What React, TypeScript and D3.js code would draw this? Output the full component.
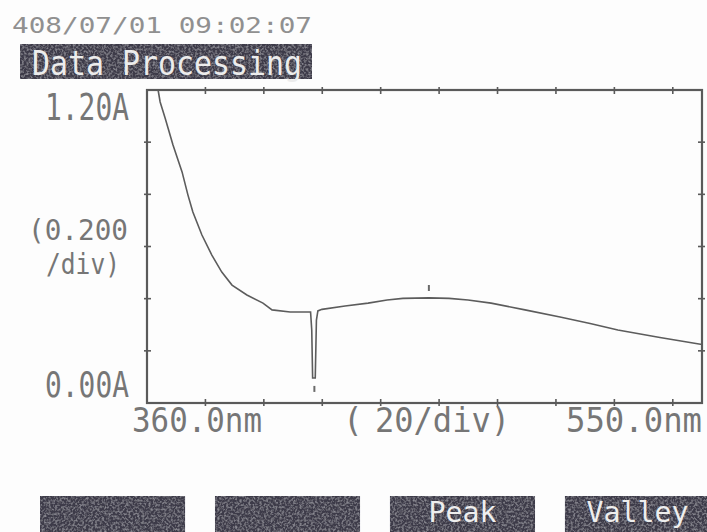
import React from 'react';
import * as d3 from 'd3';

// spectrum (nm, Abs)
const wavelength = [363.8, 364.5, 366.2, 368.9, 372.0, 374.0, 375.7, 378.8, 382.2, 385.6, 389.1, 394.2, 399.7, 402.8, 409.0, 416.0, 416.4, 416.7, 417.6, 418.0, 418.5, 419.9, 427.8, 435.7, 442.2, 447.6, 456.5, 463.4, 469.9, 477.8, 489.4, 501.4, 511.7, 521.2, 535.6, 550.0];
const absorbance = [1.200, 1.154, 1.093, 0.989, 0.886, 0.798, 0.732, 0.644, 0.567, 0.502, 0.452, 0.414, 0.383, 0.357, 0.349, 0.349, 0.280, 0.096, 0.096, 0.318, 0.353, 0.359, 0.372, 0.383, 0.395, 0.401, 0.403, 0.401, 0.395, 0.383, 0.357, 0.330, 0.305, 0.280, 0.251, 0.224];

// peak / valley marks drawn by the instrument
const markWavelength = [456.5, 417.3];
const markAbs = [0.441, 0.054];

const xTicks = [380, 400, 420, 440, 460, 480, 500, 520, 540];
const yTicks = [0.2, 0.4, 0.6, 0.8, 1.0];

const timestamp = '408/07/01 09:02:07';
const title = 'Data Processing';
const yTop = '1.20A';
const yBottom = '0.00A';
const yUnit = ['(0.200', '/div)'];
const xStart = '360.0nm';
const xEnd = '550.0nm';
const xUnit = '20/div)';
const buttons = ['', '', 'Peak', 'Valley'];

const FONT = '"DejaVu Sans Mono", monospace';
const INK = '#5a5a5a';
const LABEL = '#767676';
const BOX = '#3c3b48';

export default function App() {
  const x = d3.scaleLinear().domain([360, 550]).range([147, 702]);
  const y = d3.scaleLinear().domain([0, 1.2]).range([403, 90]);

  const pts: [number, number][] = wavelength.map((w, i) => [w, absorbance[i]]);
  const line = d3.line<[number, number]>().x(d => x(d[0])).y(d => y(d[1]));

  const btnX = d3.scaleBand<number>().domain([0, 1, 2, 3]).range([40, 710]).paddingInner(0.171).paddingOuter(0);

  return (
    <svg width={707} height={532} style={{ position: 'absolute', left: 0, top: 0, background: '#fdfdfd' }}>
      <defs>
        <filter id="grain" x="0" y="0" width="100%" height="100%">
          <feTurbulence type="fractalNoise" baseFrequency="0.45" numOctaves="2" seed="3" result="n" />
          <feColorMatrix in="n" type="matrix" values="0 0 0 0 0.62  0 0 0 0 0.62  0 0 0 0 0.68  0 0 0 0.9 -0.38" result="spots" />
          <feComposite in="spots" in2="SourceGraphic" operator="in" result="s" />
          <feMerge>
            <feMergeNode in="SourceGraphic" />
            <feMergeNode in="s" />
          </feMerge>
        </filter>
      </defs>

      <text x={12} y={33} fontFamily={FONT} fontSize={21} fill="#909090" textLength={300} lengthAdjust="spacingAndGlyphs">{timestamp}</text>

      <rect x={20} y={44} width={292} height={35} fill={BOX} filter="url(#grain)" />
      <text x={32} y={75} fontFamily={FONT} fontSize={33} fill="#ececec" textLength={270} lengthAdjust="spacingAndGlyphs">{title}</text>

      {/* frame */}
      <rect x={x(360)} y={y(1.2)} width={x(550) - x(360)} height={y(0) - y(1.2)} fill="none" stroke={INK} strokeWidth={2.2} />
      {xTicks.map(t => (
        <g key={'xt' + t} stroke={INK} strokeWidth={1.6}>
          <line x1={x(t)} x2={x(t)} y1={y(1.2) - 3} y2={y(1.2) + 4} />
          <line x1={x(t)} x2={x(t)} y1={y(0) - 4} y2={y(0) + 3} />
        </g>
      ))}
      {yTicks.map(t => (
        <g key={'yt' + t} stroke={INK} strokeWidth={1.6}>
          <line x1={x(360) - 3} x2={x(360) + 4} y1={y(t)} y2={y(t)} />
          <line x1={x(550) - 4} x2={x(550) + 3} y1={y(t)} y2={y(t)} />
        </g>
      ))}

      <path d={line(pts) || ''} fill="none" stroke="#5c5c5c" strokeWidth={1.6} />
      {markWavelength.map((w, i) => (
        <line key={'m' + i} x1={x(w)} x2={x(w)} y1={y(markAbs[i]) - 3} y2={y(markAbs[i]) + 3} stroke="#6a6a6a" strokeWidth={2} />
      ))}

      {/* axis labels */}
      <text x={45} y={120} fontFamily={FONT} fontSize={37} fill={LABEL} textLength={84} lengthAdjust="spacingAndGlyphs">{yTop}</text>
      <text x={28} y={240} fontFamily={FONT} fontSize={29} fill={LABEL} textLength={100} lengthAdjust="spacingAndGlyphs">{yUnit[0]}</text>
      <text x={46} y={274} fontFamily={FONT} fontSize={29} fill={LABEL} textLength={74} lengthAdjust="spacingAndGlyphs">{yUnit[1]}</text>
      <text x={45} y={397} fontFamily={FONT} fontSize={35} fill={LABEL} textLength={84} lengthAdjust="spacingAndGlyphs">{yBottom}</text>

      <text x={132} y={432} fontFamily={FONT} fontSize={33} fill={LABEL} textLength={130} lengthAdjust="spacingAndGlyphs">{xStart}</text>
      <text x={343} y={432} fontFamily={FONT} fontSize={33} fill={LABEL}>(</text>
      <text x={375} y={432} fontFamily={FONT} fontSize={33} fill={LABEL} textLength={135} lengthAdjust="spacingAndGlyphs">{xUnit}</text>
      <text x={566} y={432} fontFamily={FONT} fontSize={33} fill={LABEL} textLength={136} lengthAdjust="spacingAndGlyphs">{xEnd}</text>

      {/* soft keys */}
      {buttons.map((b, i) => {
        const bx = btnX(i) || 0;
        const bw = btnX.bandwidth();
        return (
          <g key={'b' + i}>
            <rect x={bx} y={496} width={bw} height={40} fill={BOX} filter="url(#grain)" />
            {b && (
              <text x={bx + bw / 2} y={522} textAnchor="middle" fontFamily={FONT} fontSize={29} fill="#eeeeee"
                textLength={b.length * 17} lengthAdjust="spacingAndGlyphs">{b}</text>
            )}
          </g>
        );
      })}
    </svg>
  );
}
